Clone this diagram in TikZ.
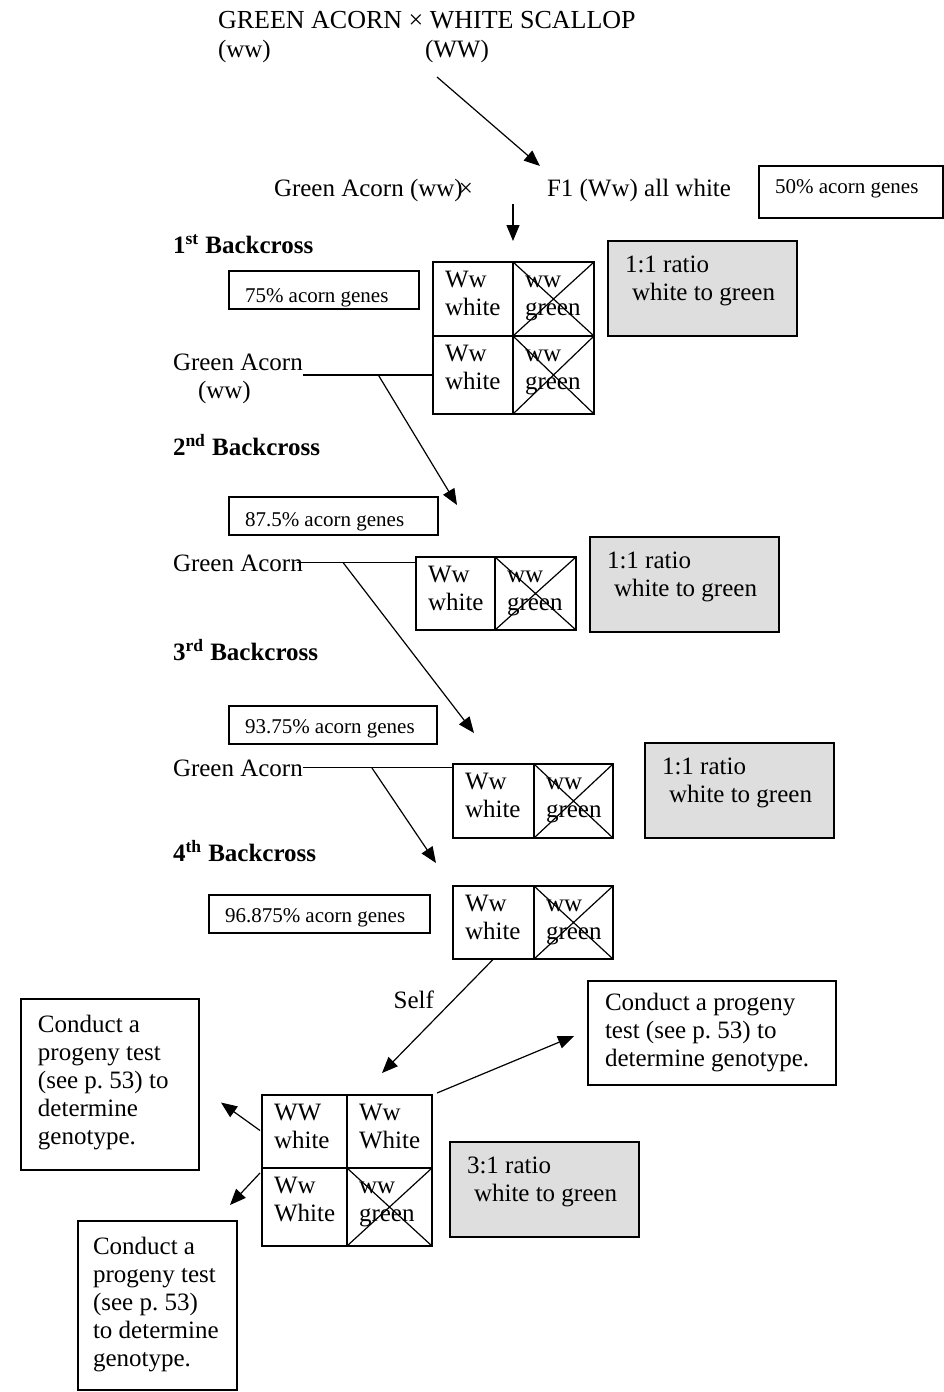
\documentclass[tikz,border=0pt]{standalone}
\usepackage{fontspec}
\setmainfont{Liberation Serif}
\usetikzlibrary{arrows.meta,calc}
\frenchspacing

\definecolor{boxgray}{HTML}{DEDEDE}
\tikzset{
  every node/.style={inner sep=0pt, outer sep=0pt},
  txt/.style={font=\fontsize{12.5}{14}\selectfont, align=left},
  small/.style={font=\fontsize{10.5}{12}\selectfont, anchor=base west},
  bc/.style={font=\fontsize{12.5}{14}\selectfont\bfseries, anchor=base west},
  box/.style={draw, line width=0.7pt, anchor=north west},
  graybox/.style={box, fill=boxgray, line width=0.9pt},
  cell/.style={draw, line width=1.1pt, anchor=north west},
  arr/.style={-{Triangle[length=8pt,width=6.5pt]}, line width=0.6pt},
  ln/.style={line width=0.6pt}
}

\begin{document}
\begin{tikzpicture}[x=0.5pt, y=-0.5pt]
		\path[use as bounding box, fill=white] (0,0) rectangle (943,1392);
		% % Parents and F1
		\node[txt, font=\fontsize{13}{14}\selectfont, anchor=base west] (par) at (218,28) {GREEN ACORN × WHITE SCALLOP};
		\node[txt, anchor=base west] (pww) at (218,57) {(ww)};
		\node[txt, anchor=base west] (pWW) at (425,57) {(WW)};
		\node[txt, anchor=base west] (ga0) at (274,196) {Green Acorn (ww)\kern-2pt×};
		\node[txt, anchor=base west] (f1) at (547,196) {F1 (Ww) all white};
		\draw[arr] ($(pWW.base west)+(12,20)$) -- ($(f1.base west)+(-7,-30)$);
		% % Backcross labels
		\foreach \i/\y/\s in {1/253/st, 2/455/nd, 3/660/rd, 4/861/th}{
			\node[bc] (bc\i) at (173,\y) {\i\textsuperscript{\s} Backcross};
		}
		% % Acorn gene boxes
		\foreach \n/\s/\x/\y/\w/\h/\dx/\dy in {
			a50/50/759/166/184/52/16/27,
			a75/75/229/271/190/38/16/31,
			a875/87.5/229/497/209/38/16/29,
			a9375/93.75/229/706/208/38/16/27,
			a96875/96.875/209/895/221/38/16/27%
		}{
			\node[box, minimum width=\w*0.5pt, minimum height=\h*0.5pt] (\n) at (\x,\y) {};
			\node[small] (\n-t) at ($(\n.north west)+(\dx,\dy)$) {\s\% acorn genes};
		}
		% % Punnett squares
		\foreach \n/\x/\y/\w/\h/\a/\b in {
			p1a/433/262/80/74/Ww/white, p1b/513/262/81/74/ww/green,
			p1c/433/336/80/78/Ww/white, p1d/513/336/81/78/ww/green,
			p2a/416/557/79/73/Ww/white, p2b/495/557/81/73/ww/green,
			p3a/453/764/81/74/Ww/white, p3b/534/764/79/74/ww/green,
			p4a/453/886/81/73/Ww/white, p4b/534/886/79/73/ww/green,
			p5a/262/1095/85/73/WW/white, p5b/347/1095/85/73/Ww/White,
			p5c/262/1168/85/78/Ww/White, p5d/347/1168/85/78/ww/green%
		}{
			\node[cell, minimum width=\w*0.5pt, minimum height=\h*0.5pt] (\n) at (\x,\y) {};
			\node[txt, anchor=north west] (\n-t) at ($(\n.north west)+(12,9)$) {\vphantom{W}\a\\\b};
		}
		\foreach \n in {p1b, p1d, p2b, p3b, p4b, p5d}{
			\draw[ln] (\n.north west) -- (\n.south east) (\n.north east) -- (\n.south west);
		}
		% % Ratio boxes
		\foreach \n/\x/\y/\r in {g1/608/241/1:1, g2/590/537/1:1, g3/645/743/1:1, g5/450/1142/3:1}{
			\node[graybox, minimum width=94.5pt, minimum height=47.5pt] (\n) at (\x,\y) {};
			\node[txt, anchor=north west] (\n-t) at ($(\n.north west)+(17,15)$) {\r\ ratio\\\hspace*{3.5pt}white to green};
		}
		% % Progeny test boxes
		\node[box, minimum width=89pt, minimum height=85.5pt] (lb) at (21,999) {};
		\node[txt, anchor=north west] (lb-t) at ($(lb.north west)+(17,16)$) {Conduct a\\progeny test\\(see p. 53) to\\determine\\genotype.};
		\node[box, minimum width=124pt, minimum height=52pt] (rb) at (588,981) {};
		\node[txt, anchor=north west] (rb-t) at ($(rb.north west)+(17,12)$) {Conduct a progeny\\test (see p. 53) to\\determine genotype.};
		\node[box, minimum width=79.5pt, minimum height=84.5pt] (bb) at (78,1221) {};
		\node[txt, anchor=north west] (bb-t) at ($(bb.north west)+(15,16)$) {Conduct a\\progeny test\\(see p. 53)\\to determine\\genotype.};
		% % Green Acorn crosses
		\node[txt, anchor=base west] (ga1) at (173,370) {Green Acorn};
		\node[txt, anchor=base west] (gw1) at (198,398) {(ww)};
		\node[txt, anchor=base west] (ga2) at (173,571) {Green Acorn};
		\node[txt, anchor=base west] (ga3) at (173,776) {Green Acorn};
		\draw[ln] (ga1.east |- p1c.west) -- (p1c.west) coordinate[pos=0.58] (d1);
		\draw[ln] ($(ga2.east)+(-6,0)$) -- (ga2.east -| p2a.west) coordinate[pos=0.39] (d2);
		\draw[ln] (ga3.east) -- (ga3.east -| p3a.west) coordinate[pos=0.46] (d3);
		\draw[arr] ($(f1.base west)+(-34,8)$) -- ($(p1b.north west)+(0,-21)$);
		\draw[arr] (d1) -- ($(p2a.north west)+(41,-52)$);
		\draw[arr] (d2) -- ($(p3a.north west)+(21,-31)$);
		\draw[arr] (d3) -- ($(p4a.north west)+(-17,-23)$);
		% % Self and progeny tests
		\node[txt, anchor=base east] (self) at (434,1008) {Self};
		\draw[arr] (p4a.south) -- ($(p5b.north west)+(35,-22)$);
		\draw[arr] ($(p5b.north east)+(5,-2)$) -- ($(rb.west)+(-14,3)$);
		\draw[arr] ($(p5a.west)+(-2,-1)$) -- ($(lb.east)+(22,18)$);
		\draw[arr] ($(p5a.south west)+(-2,5)$) -- ($(bb.north east)+(-7,-16)$);
\end{tikzpicture}
\end{document}
